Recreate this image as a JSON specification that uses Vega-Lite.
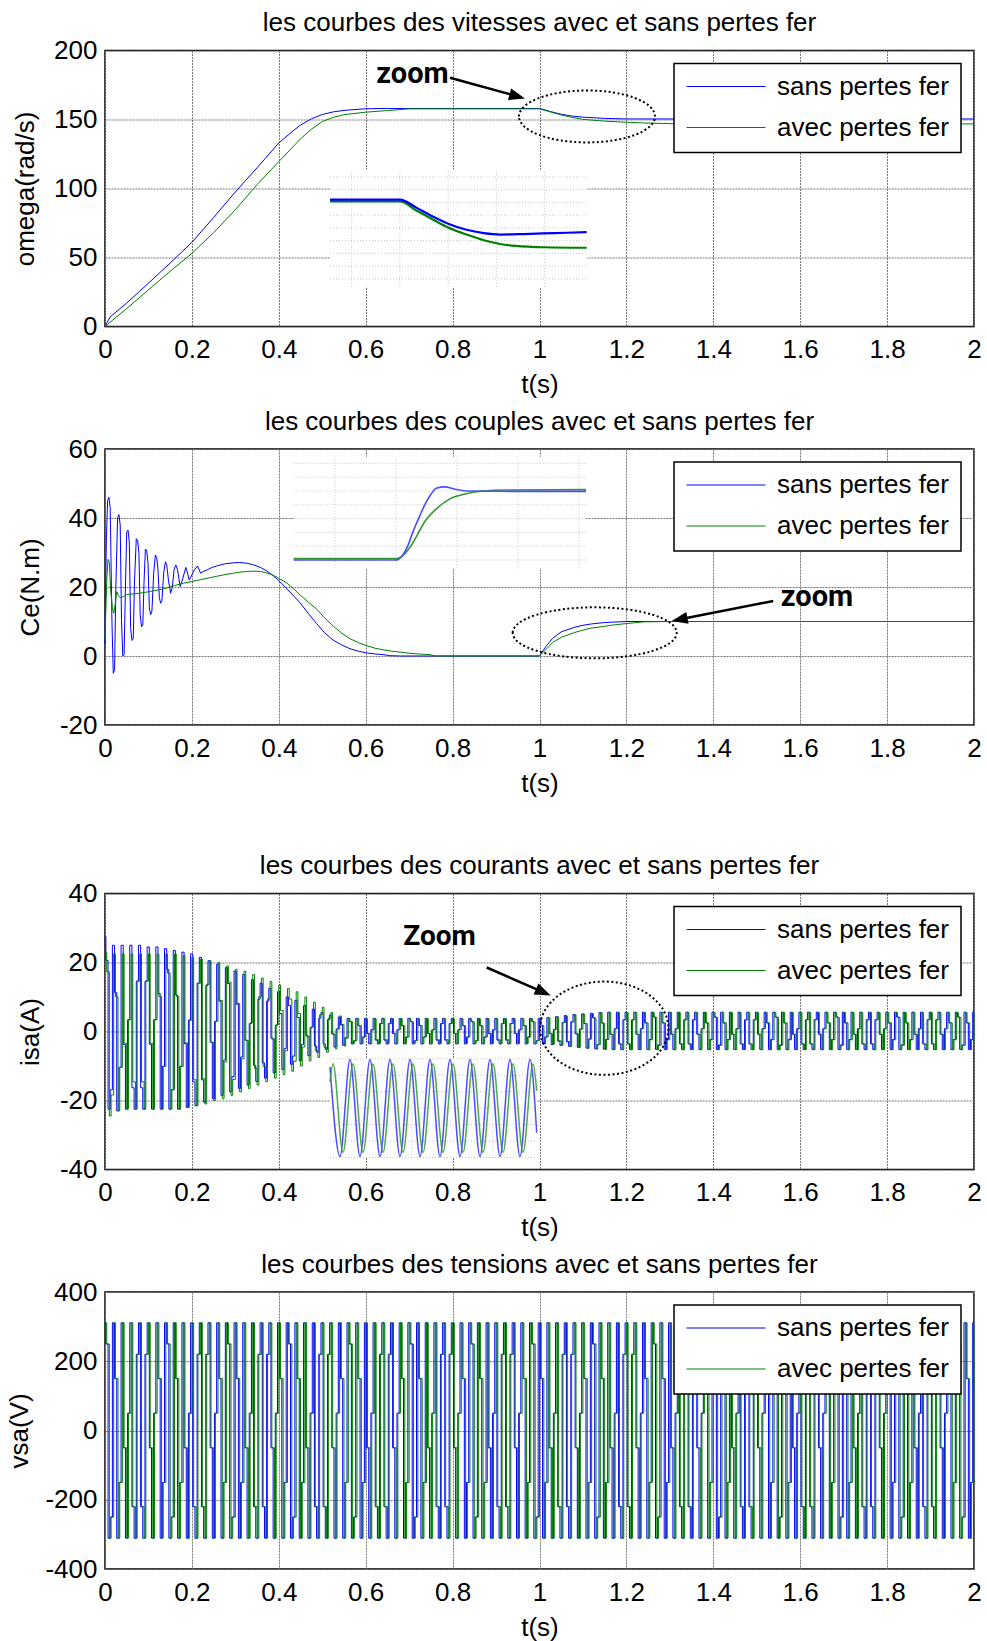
{
"$schema": "https://vega.github.io/schema/vega-lite/v6.json",
"background": "white",
"padding": {"left": 5, "top": 8.5, "right": 4, "bottom": 0},
"spacing": 8.5,
"config": {
  "font": "Liberation Sans",
  "view": {"stroke": "black", "strokeWidth": 1.5},
  "axis": {"domain": false, "ticks": false, "grid": true, "gridColor": "#777777", "gridDash": [2, 1], "gridWidth": 1, "labelFont": "Liberation Sans", "labelFontSize": 26, "labelColor": "black", "titleFont": "Liberation Sans", "titleFontSize": 26, "titleFontWeight": "normal", "titleColor": "black", "labelOverlap": false, "labelExpr": "replace(datum.label, '\u2212', '-')"},
  "axisX": {"labelPadding": 10, "labelFlush": false},
  "axisY": {"labelPadding": 8},
  "title": {"font": "Liberation Sans", "fontSize": 26, "fontWeight": "normal", "color": "black", "offset": 1.5, "anchor": "middle"},
  "legend": {"symbolType": "stroke", "symbolSize": 6241, "symbolStrokeWidth": 1, "labelFont": "Liberation Sans", "labelFontSize": 26, "labelColor": "black", "labelOffset": 11, "labelLimit": 400, "padding": 12, "rowPadding": 15, "clipHeight": 22, "strokeColor": "black", "fillColor": "white", "strokeWidth": 1.5, "cornerRadius": 0}
},
"resolve": {"scale": {"color": "independent", "x": "independent", "y": "independent"}},
"datasets": {
"w_b": [{"t":0,"v":0},{"t":0.005,"v":3},{"t":0.012,"v":7},{"t":0.05,"v":17},{"t":0.1,"v":31.4},{"t":0.15,"v":46},{"t":0.2,"v":61},{"t":0.25,"v":79},{"t":0.3,"v":97.5},{"t":0.35,"v":115},{"t":0.4,"v":133},{"t":0.43,"v":141},{"t":0.45,"v":146},{"t":0.475,"v":150.5},{"t":0.5,"v":153.6},{"t":0.525,"v":155.5},{"t":0.55,"v":156.6},{"t":0.6,"v":157.8},{"t":0.65,"v":158},{"t":1,"v":158},{"t":1.025,"v":155.8},{"t":1.05,"v":153.8},{"t":1.075,"v":152.5},{"t":1.1,"v":151.7},{"t":1.15,"v":150.8},{"t":1.2,"v":150.4},{"t":2,"v":150.4}],
"w_g": [{"t":0,"v":0},{"t":0.05,"v":13},{"t":0.1,"v":26.6},{"t":0.15,"v":40},{"t":0.2,"v":53},{"t":0.25,"v":68},{"t":0.3,"v":84.6},{"t":0.35,"v":102.8},{"t":0.4,"v":119.5},{"t":0.45,"v":136},{"t":0.475,"v":143},{"t":0.5,"v":148.5},{"t":0.525,"v":151.5},{"t":0.55,"v":153.5},{"t":0.6,"v":155.3},{"t":0.65,"v":156.5},{"t":0.7,"v":157.7},{"t":1,"v":157.7},{"t":1.025,"v":155.5},{"t":1.05,"v":153.3},{"t":1.075,"v":151.5},{"t":1.1,"v":150.1},{"t":1.15,"v":148.8},{"t":1.2,"v":148},{"t":1.25,"v":147.4},{"t":1.3,"v":147},{"t":2,"v":146.8}],
"c_b": [{"t":0,"v":3.5},{"t":0.003,"v":33},{"t":0.006,"v":45},{"t":0.009,"v":46},{"t":0.012,"v":43},{"t":0.016,"v":10},{"t":0.019,"v":-5},{"t":0.022,"v":-4},{"t":0.025,"v":20},{"t":0.029,"v":40},{"t":0.032,"v":41},{"t":0.035,"v":38},{"t":0.038,"v":10},{"t":0.041,"v":0},{"t":0.044,"v":0.5},{"t":0.047,"v":20},{"t":0.05,"v":36},{"t":0.053,"v":36.5},{"t":0.056,"v":33},{"t":0.059,"v":8},{"t":0.062,"v":4.5},{"t":0.065,"v":5},{"t":0.068,"v":22},{"t":0.072,"v":34},{"t":0.075,"v":33.5},{"t":0.078,"v":30},{"t":0.081,"v":12},{"t":0.084,"v":8.5},{"t":0.087,"v":9},{"t":0.09,"v":22},{"t":0.093,"v":31},{"t":0.096,"v":30.5},{"t":0.099,"v":27},{"t":0.102,"v":14},{"t":0.105,"v":12},{"t":0.108,"v":13},{"t":0.112,"v":24},{"t":0.116,"v":29.3},{"t":0.119,"v":28.5},{"t":0.122,"v":25},{"t":0.125,"v":17},{"t":0.128,"v":15.3},{"t":0.131,"v":16},{"t":0.135,"v":24},{"t":0.139,"v":27.3},{"t":0.142,"v":26.5},{"t":0.146,"v":22},{"t":0.151,"v":18.2},{"t":0.155,"v":20},{"t":0.159,"v":25},{"t":0.163,"v":26.4},{"t":0.167,"v":25},{"t":0.173,"v":20.1},{"t":0.178,"v":22},{"t":0.186,"v":25.7},{"t":0.19,"v":24},{"t":0.194,"v":22},{"t":0.2,"v":23.5},{"t":0.206,"v":25},{"t":0.213,"v":26.1},{"t":0.22,"v":24},{"t":0.226,"v":24.5},{"t":0.234,"v":24.9},{"t":0.245,"v":25.6},{"t":0.257,"v":26.1},{"t":0.275,"v":26.7},{"t":0.295,"v":27},{"t":0.31,"v":27.1},{"t":0.326,"v":26.9},{"t":0.34,"v":26.5},{"t":0.357,"v":25.7},{"t":0.372,"v":24.7},{"t":0.387,"v":23.3},{"t":0.4,"v":21.8},{"t":0.418,"v":19.6},{"t":0.435,"v":17.3},{"t":0.449,"v":15.4},{"t":0.468,"v":12.3},{"t":0.487,"v":9.4},{"t":0.505,"v":6.8},{"t":0.525,"v":4.6},{"t":0.545,"v":3.2},{"t":0.564,"v":2.1},{"t":0.583,"v":1.4},{"t":0.602,"v":0.9},{"t":0.62,"v":0.6},{"t":0.64,"v":0.4},{"t":0.655,"v":0.1},{"t":0.68,"v":0},{"t":1,"v":0},{"t":1.015,"v":2.8},{"t":1.03,"v":5.1},{"t":1.05,"v":7},{"t":1.08,"v":8.3},{"t":1.1,"v":8.9},{"t":1.12,"v":9.3},{"t":1.15,"v":9.7},{"t":1.2,"v":10},{"t":2,"v":10}],
"c_g": [{"t":0,"v":5},{"t":0.004,"v":22},{"t":0.007,"v":28},{"t":0.01,"v":27},{"t":0.013,"v":19},{"t":0.017,"v":14},{"t":0.02,"v":12.4},{"t":0.023,"v":14.5},{"t":0.027,"v":18.6},{"t":0.031,"v":17.5},{"t":0.036,"v":16.8},{"t":0.042,"v":17.2},{"t":0.05,"v":17.8},{"t":0.065,"v":18},{"t":0.08,"v":18.2},{"t":0.104,"v":18.7},{"t":0.125,"v":19.2},{"t":0.142,"v":19.7},{"t":0.16,"v":20.4},{"t":0.18,"v":21.1},{"t":0.2,"v":21.6},{"t":0.219,"v":22.1},{"t":0.238,"v":22.6},{"t":0.257,"v":23.1},{"t":0.276,"v":23.6},{"t":0.295,"v":24},{"t":0.31,"v":24.3},{"t":0.326,"v":24.5},{"t":0.342,"v":24.6},{"t":0.357,"v":24.5},{"t":0.372,"v":24.1},{"t":0.387,"v":23.4},{"t":0.4,"v":22.5},{"t":0.418,"v":21.2},{"t":0.435,"v":19.4},{"t":0.449,"v":17.7},{"t":0.468,"v":15.6},{"t":0.487,"v":13.6},{"t":0.505,"v":11.1},{"t":0.525,"v":8.7},{"t":0.545,"v":6.6},{"t":0.564,"v":5},{"t":0.583,"v":3.9},{"t":0.602,"v":3},{"t":0.62,"v":2.3},{"t":0.64,"v":1.8},{"t":0.66,"v":1.4},{"t":0.68,"v":1.1},{"t":0.7,"v":0.8},{"t":0.72,"v":0.6},{"t":0.748,"v":0.4},{"t":0.76,"v":0},{"t":1,"v":0},{"t":1.015,"v":1.9},{"t":1.03,"v":3.9},{"t":1.05,"v":5.4},{"t":1.08,"v":6.8},{"t":1.1,"v":7.5},{"t":1.12,"v":8.1},{"t":1.15,"v":8.6},{"t":1.17,"v":9},{"t":1.2,"v":9.4},{"t":1.24,"v":9.9},{"t":1.3,"v":10},{"t":2,"v":10}],
"i1_b": [{"t":0.9275,"v":157.5},{"t":1,"v":157.5},{"t":1.017,"v":155.8},{"t":1.034,"v":153.9},{"t":1.05,"v":152.4},{"t":1.069,"v":151.1},{"t":1.087,"v":150.4},{"t":1.104,"v":150.1},{"t":1.128,"v":150.2},{"t":1.16,"v":150.4},{"t":1.1936,"v":150.6}],
"i1_g": [{"t":0.9275,"v":157.1},{"t":1,"v":157.1},{"t":1.017,"v":155.2},{"t":1.034,"v":153.3},{"t":1.05,"v":151.6},{"t":1.069,"v":150.1},{"t":1.087,"v":148.9},{"t":1.104,"v":148.1},{"t":1.12,"v":147.7},{"t":1.15,"v":147.4},{"t":1.1936,"v":147.3}],
"i2_b": [{"t":0.8323,"v":0},{"t":1,"v":0},{"t":1.01,"v":0.6},{"t":1.02,"v":2.2},{"t":1.027,"v":3.9},{"t":1.04,"v":6.6},{"t":1.049,"v":8.3},{"t":1.058,"v":9.6},{"t":1.066,"v":10.4},{"t":1.08,"v":10.6},{"t":1.095,"v":10.3},{"t":1.115,"v":10},{"t":1.2,"v":9.95},{"t":1.3115,"v":9.95}],
"i2_g": [{"t":0.8323,"v":0.2},{"t":1,"v":0.2},{"t":1.012,"v":0.7},{"t":1.027,"v":2.4},{"t":1.049,"v":5.8},{"t":1.066,"v":7.4},{"t":1.089,"v":8.9},{"t":1.115,"v":9.6},{"t":1.143,"v":10},{"t":1.18,"v":10.15},{"t":1.3115,"v":10.2}],
"i3_b": [{"t":1,"v":5},{"t":1.01,"v":-5.9},{"t":1.02,"v":5.9},{"t":1.03,"v":-5.9},{"t":1.04,"v":5.9},{"t":1.05,"v":-5.9},{"t":1.06,"v":5.9},{"t":1.07,"v":-5.9},{"t":1.08,"v":5.9},{"t":1.09,"v":-5.9},{"t":1.1,"v":5.9},{"t":1.11,"v":-5.9},{"t":1.12,"v":5.9},{"t":1.13,"v":-5.9},{"t":1.14,"v":5.9},{"t":1.15,"v":-5.9},{"t":1.16,"v":5.9},{"t":1.17,"v":-5.9},{"t":1.18,"v":5.9},{"t":1.19,"v":-5.9},{"t":1.2,"v":5.9},{"t":1.2067,"v":-3}],
"i3_g": [{"t":1,"v":3.2},{"t":1.003,"v":5.4},{"t":1.013,"v":-5.4},{"t":1.023,"v":5.4},{"t":1.033,"v":-5.4},{"t":1.043,"v":5.4},{"t":1.053,"v":-5.4},{"t":1.063,"v":5.4},{"t":1.073,"v":-5.4},{"t":1.083,"v":5.4},{"t":1.093,"v":-5.4},{"t":1.103,"v":5.4},{"t":1.113,"v":-5.4},{"t":1.123,"v":5.4},{"t":1.133,"v":-5.4},{"t":1.143,"v":5.4},{"t":1.153,"v":-5.4},{"t":1.163,"v":5.4},{"t":1.173,"v":-5.4},{"t":1.183,"v":5.4},{"t":1.193,"v":-5.4},{"t":1.203,"v":5.4},{"t":1.2067,"v":2.1}],
"isa": [
{"t":0,"b":27.5,"g":23},{"t":0.004,"b":20.6,"g":17.3},{"t":0.01,"b":-22.5,"g":-24.5},{"t":0.014,"b":-16.9,"g":-18.4},
{"t":0.02,"b":25,"g":22.5},{"t":0.024,"b":11.3,"g":10.1},{"t":0.03,"b":-23,"g":-23},{"t":0.034,"b":-10.4,"g":-10.4},
{"t":0.04,"b":25,"g":22.5},{"t":0.044,"b":-3.8,"g":-3.4},{"t":0.05,"b":-22.5,"g":-22.5},{"t":0.054,"b":3.4,"g":3.4},
{"t":0.06,"b":25,"g":22.5},{"t":0.064,"b":-16.3,"g":-14.6},{"t":0.07,"b":-22.5,"g":-22.5},{"t":0.074,"b":14.6,"g":14.6},
{"t":0.08,"b":25,"g":22.5},{"t":0.084,"b":-16.3,"g":-14.6},{"t":0.09,"b":-22.5,"g":-22.5},{"t":0.094,"b":14.6,"g":14.6},
{"t":0.1,"b":24.5,"g":22.5},{"t":0.104,"b":-3.7,"g":-3.4},{"t":0.11,"b":-22.5,"g":-22.5},{"t":0.114,"b":3.4,"g":3.4},
{"t":0.12,"b":24.5,"g":22.5},{"t":0.124,"b":11,"g":10.1},{"t":0.13,"b":-22.5,"g":-22.5},{"t":0.134,"b":-10.1,"g":-10.1},
{"t":0.14,"b":24,"g":22.5},{"t":0.144,"b":18,"g":16.9},{"t":0.15,"b":-22.5,"g":-22.5},{"t":0.154,"b":-16.9,"g":-16.9},
{"t":0.16,"b":23.5,"g":22.5},{"t":0.164,"b":10.6,"g":10.1},{"t":0.17,"b":-22.5,"g":-22.5},{"t":0.174,"b":-10.1,"g":-10.1},
{"t":0.18,"b":23,"g":22},{"t":0.184,"b":-3.5,"g":-3.3},{"t":0.19,"b":-22,"g":-22},{"t":0.194,"b":3.3,"g":3.3},
{"t":0.2,"b":22.5,"g":21.5},{"t":0.204,"b":-14.6,"g":-14},{"t":0.21,"b":-21.5,"g":-21.5},{"t":0.214,"b":14,"g":14},
{"t":0.22,"b":21.5,"g":21},{"t":0.224,"b":-14,"g":-13.7},{"t":0.23,"b":-20.5,"g":-21},{"t":0.234,"b":13.3,"g":13.7},
{"t":0.24,"b":20.5,"g":20.5},{"t":0.244,"b":-3.1,"g":-3.1},{"t":0.25,"b":-19.5,"g":-20},{"t":0.254,"b":2.9,"g":3},
{"t":0.26,"b":19.5,"g":20},{"t":0.264,"b":8.8,"g":9},{"t":0.27,"b":-18.5,"g":-19.5},{"t":0.274,"b":-8.3,"g":-8.8},
{"t":0.28,"b":18.5,"g":19},{"t":0.284,"b":13.9,"g":14.3},{"t":0.29,"b":-17.5,"g":-18.5},{"t":0.294,"b":-13.1,"g":-13.9},
{"t":0.3,"b":17.5,"g":18},{"t":0.304,"b":7.9,"g":8.1},{"t":0.31,"b":-16.5,"g":-17.5},{"t":0.314,"b":-7.4,"g":-7.9},
{"t":0.32,"b":16.5,"g":17.5},{"t":0.324,"b":-2.5,"g":-2.6},{"t":0.33,"b":-15.5,"g":-16.5},{"t":0.334,"b":2.3,"g":2.5},
{"t":0.34,"b":15,"g":16.5},{"t":0.344,"b":-9.8,"g":-10.7},{"t":0.35,"b":-14.5,"g":-15.5},{"t":0.354,"b":9.4,"g":10.1},
{"t":0.36,"b":14,"g":15.5},{"t":0.364,"b":-9.1,"g":-10.1},{"t":0.37,"b":-13.5,"g":-14.5},{"t":0.374,"b":8.8,"g":9.4},
{"t":0.38,"b":12.5,"g":14.5},{"t":0.384,"b":-1.9,"g":-2.2},{"t":0.39,"b":-12,"g":-13.5},{"t":0.394,"b":1.8,"g":2},
{"t":0.4,"b":11.5,"g":13.5},{"t":0.404,"b":5.2,"g":6.1},{"t":0.41,"b":-11,"g":-12.5},{"t":0.414,"b":-5,"g":-5.6},
{"t":0.42,"b":10,"g":12.5},{"t":0.424,"b":7.5,"g":9.4},{"t":0.43,"b":-9.5,"g":-11.5},{"t":0.434,"b":-7.1,"g":-8.6},
{"t":0.44,"b":9,"g":11.5},{"t":0.444,"b":4.1,"g":5.2},{"t":0.45,"b":-8.5,"g":-10},{"t":0.454,"b":-3.8,"g":-4.5},
{"t":0.46,"b":7.5,"g":10},{"t":0.464,"b":-1.1,"g":-1.5},{"t":0.47,"b":-7,"g":-8.5},{"t":0.474,"b":1.1,"g":1.3},
{"t":0.48,"b":6.5,"g":8.5},{"t":0.484,"b":-4.2,"g":-5.5},{"t":0.49,"b":-6,"g":-7.5},{"t":0.494,"b":3.9,"g":4.9},
{"t":0.5,"b":5.5,"g":7},{"t":0.504,"b":-3.6,"g":-4.6},{"t":0.51,"b":-5.2,"g":-6},{"t":0.514,"b":3.4,"g":3.9},
{"t":0.52,"b":4.8,"g":5.5},{"t":0.524,"b":-0.7,"g":-0.8},{"t":0.53,"b":-4.5,"g":-5},{"t":0.534,"b":0.7,"g":0.8},
{"t":0.54,"b":4.2,"g":4.5},{"t":0.544,"b":1.9,"g":2},{"t":0.55,"b":-4,"g":-4.2},{"t":0.554,"b":-1.8,"g":-1.9},
{"t":0.56,"b":3.8,"g":3.7},{"t":0.564,"b":2.9,"g":2.8},{"t":0.57,"b":-3.6,"g":-3.5},{"t":0.574,"b":-2.7,"g":-2.6},
{"t":0.58,"b":3.8,"g":3.7},{"t":0.584,"b":1.7,"g":1.7},{"t":0.59,"b":-3.6,"g":-3.5},{"t":0.594,"b":-1.6,"g":-1.6},
{"t":0.6,"b":3.8,"g":3.7},{"t":0.604,"b":-0.6,"g":-0.6},{"t":0.61,"b":-3.6,"g":-3.5},{"t":0.614,"b":0.5,"g":0.5},
{"t":0.62,"b":3.8,"g":3.7},{"t":0.624,"b":-2.5,"g":-2.4},{"t":0.63,"b":-3.6,"g":-3.5},{"t":0.634,"b":2.3,"g":2.3},
{"t":0.64,"b":3.8,"g":3.7},{"t":0.644,"b":-2.5,"g":-2.4},{"t":0.65,"b":-3.6,"g":-3.5},{"t":0.654,"b":2.3,"g":2.3},
{"t":0.66,"b":3.8,"g":3.7},{"t":0.664,"b":-0.6,"g":-0.6},{"t":0.67,"b":-3.6,"g":-3.5},{"t":0.674,"b":0.5,"g":0.5},
{"t":0.68,"b":3.8,"g":3.7},{"t":0.684,"b":1.7,"g":1.7},{"t":0.69,"b":-3.6,"g":-3.5},{"t":0.694,"b":-1.6,"g":-1.6},
{"t":0.7,"b":3.8,"g":3.7},{"t":0.704,"b":2.9,"g":2.8},{"t":0.71,"b":-3.6,"g":-3.5},{"t":0.714,"b":-2.7,"g":-2.6},
{"t":0.72,"b":3.8,"g":3.7},{"t":0.724,"b":1.7,"g":1.7},{"t":0.73,"b":-3.6,"g":-3.5},{"t":0.734,"b":-1.6,"g":-1.6},
{"t":0.74,"b":3.8,"g":3.7},{"t":0.744,"b":-0.6,"g":-0.6},{"t":0.75,"b":-3.6,"g":-3.5},{"t":0.754,"b":0.5,"g":0.5},
{"t":0.76,"b":3.8,"g":3.7},{"t":0.764,"b":-2.5,"g":-2.4},{"t":0.77,"b":-3.6,"g":-3.5},{"t":0.774,"b":2.3,"g":2.3},
{"t":0.78,"b":3.8,"g":3.7},{"t":0.784,"b":-2.5,"g":-2.4},{"t":0.79,"b":-3.6,"g":-3.5},{"t":0.794,"b":2.3,"g":2.3},
{"t":0.8,"b":3.8,"g":3.7},{"t":0.804,"b":-0.6,"g":-0.6},{"t":0.81,"b":-3.6,"g":-3.5},{"t":0.814,"b":0.5,"g":0.5},
{"t":0.82,"b":3.8,"g":3.7},{"t":0.824,"b":1.7,"g":1.7},{"t":0.83,"b":-3.6,"g":-3.5},{"t":0.834,"b":-1.6,"g":-1.6},
{"t":0.84,"b":3.8,"g":3.7},{"t":0.844,"b":2.9,"g":2.8},{"t":0.85,"b":-3.6,"g":-3.5},{"t":0.854,"b":-2.7,"g":-2.6},
{"t":0.86,"b":3.8,"g":3.7},{"t":0.864,"b":1.7,"g":1.7},{"t":0.87,"b":-3.6,"g":-3.5},{"t":0.874,"b":-1.6,"g":-1.6},
{"t":0.88,"b":3.8,"g":3.7},{"t":0.884,"b":-0.6,"g":-0.6},{"t":0.89,"b":-3.6,"g":-3.5},{"t":0.894,"b":0.5,"g":0.5},
{"t":0.9,"b":3.8,"g":3.7},{"t":0.904,"b":-2.5,"g":-2.4},{"t":0.91,"b":-3.6,"g":-3.5},{"t":0.914,"b":2.3,"g":2.3},
{"t":0.92,"b":3.8,"g":3.7},{"t":0.924,"b":-2.5,"g":-2.4},{"t":0.93,"b":-3.6,"g":-3.5},{"t":0.934,"b":2.3,"g":2.3},
{"t":0.94,"b":3.8,"g":3.7},{"t":0.944,"b":-0.6,"g":-0.6},{"t":0.95,"b":-3.6,"g":-3.5},{"t":0.954,"b":0.5,"g":0.5},
{"t":0.96,"b":3.8,"g":3.7},{"t":0.964,"b":1.7,"g":1.7},{"t":0.97,"b":-3.6,"g":-3.5},{"t":0.974,"b":-1.6,"g":-1.6},
{"t":0.98,"b":3.8,"g":3.7},{"t":0.984,"b":2.9,"g":2.8},{"t":0.99,"b":-3.6,"g":-3.5},{"t":0.994,"b":-2.7,"g":-2.6},
{"t":1,"b":3.8,"g":3.7},{"t":1.004,"b":1.7,"g":1.7},{"t":1.01,"b":-3.6,"g":-3.5},{"t":1.014,"b":-1.6,"g":-1.6},
{"t":1.02,"b":4,"g":3.9},{"t":1.024,"b":-0.6,"g":-0.6},{"t":1.03,"b":-3.8,"g":-3.7},{"t":1.034,"b":0.6,"g":0.6},
{"t":1.04,"b":4.3,"g":4.2},{"t":1.044,"b":-2.8,"g":-2.7},{"t":1.05,"b":-4,"g":-4},{"t":1.054,"b":2.6,"g":2.6},
{"t":1.06,"b":4.6,"g":4.5},{"t":1.064,"b":-3,"g":-2.9},{"t":1.07,"b":-4.3,"g":-4.3},{"t":1.074,"b":2.8,"g":2.8},
{"t":1.08,"b":4.9,"g":4.8},{"t":1.084,"b":-0.7,"g":-0.7},{"t":1.09,"b":-4.6,"g":-4.6},{"t":1.094,"b":0.7,"g":0.7},
{"t":1.1,"b":5.1,"g":5},{"t":1.104,"b":2.3,"g":2.3},{"t":1.11,"b":-4.8,"g":-4.9},{"t":1.114,"b":-2.2,"g":-2.2},
{"t":1.12,"b":5.3,"g":5.2},{"t":1.124,"b":4,"g":3.9},{"t":1.13,"b":-5,"g":-5.1},{"t":1.134,"b":-3.8,"g":-3.8},
{"t":1.14,"b":5.5,"g":5.4},{"t":1.144,"b":2.5,"g":2.4},{"t":1.15,"b":-5.1,"g":-5.2},{"t":1.154,"b":-2.3,"g":-2.3},
{"t":1.16,"b":5.6,"g":5.5},{"t":1.164,"b":-0.8,"g":-0.8},{"t":1.17,"b":-5.2,"g":-5.3},{"t":1.174,"b":0.8,"g":0.8},
{"t":1.18,"b":5.6,"g":5.5},{"t":1.184,"b":-3.6,"g":-3.6},{"t":1.19,"b":-5.2,"g":-5.3},{"t":1.194,"b":3.4,"g":3.4},
{"t":1.2,"b":5.6,"g":5.5},{"t":1.204,"b":-3.6,"g":-3.6},{"t":1.21,"b":-5.2,"g":-5.3},{"t":1.214,"b":3.4,"g":3.4},
{"t":1.22,"b":5.6,"g":5.5},{"t":1.224,"b":-0.8,"g":-0.8},{"t":1.23,"b":-5.2,"g":-5.3},{"t":1.234,"b":0.8,"g":0.8},
{"t":1.24,"b":5.6,"g":5.5},{"t":1.244,"b":2.5,"g":2.5},{"t":1.25,"b":-5.2,"g":-5.3},{"t":1.254,"b":-2.3,"g":-2.4},
{"t":1.26,"b":5.6,"g":5.5},{"t":1.264,"b":4.2,"g":4.1},{"t":1.27,"b":-5.2,"g":-5.3},{"t":1.274,"b":-3.9,"g":-4},
{"t":1.28,"b":5.6,"g":5.5},{"t":1.284,"b":2.5,"g":2.5},{"t":1.29,"b":-5.2,"g":-5.3},{"t":1.294,"b":-2.3,"g":-2.4},
{"t":1.3,"b":5.6,"g":5.5},{"t":1.304,"b":-0.8,"g":-0.8},{"t":1.31,"b":-5.2,"g":-5.3},{"t":1.314,"b":0.8,"g":0.8},
{"t":1.32,"b":5.6,"g":5.5},{"t":1.324,"b":-3.6,"g":-3.6},{"t":1.33,"b":-5.2,"g":-5.3},{"t":1.334,"b":3.4,"g":3.4},
{"t":1.34,"b":5.6,"g":5.5},{"t":1.344,"b":-3.6,"g":-3.6},{"t":1.35,"b":-5.2,"g":-5.3},{"t":1.354,"b":3.4,"g":3.4},
{"t":1.36,"b":5.6,"g":5.5},{"t":1.364,"b":-0.8,"g":-0.8},{"t":1.37,"b":-5.2,"g":-5.3},{"t":1.374,"b":0.8,"g":0.8},
{"t":1.38,"b":5.6,"g":5.5},{"t":1.384,"b":2.5,"g":2.5},{"t":1.39,"b":-5.2,"g":-5.3},{"t":1.394,"b":-2.3,"g":-2.4},
{"t":1.4,"b":5.6,"g":5.5},{"t":1.404,"b":4.2,"g":4.1},{"t":1.41,"b":-5.2,"g":-5.3},{"t":1.414,"b":-3.9,"g":-4},
{"t":1.42,"b":5.6,"g":5.5},{"t":1.424,"b":2.5,"g":2.5},{"t":1.43,"b":-5.2,"g":-5.3},{"t":1.434,"b":-2.3,"g":-2.4},
{"t":1.44,"b":5.6,"g":5.5},{"t":1.444,"b":-0.8,"g":-0.8},{"t":1.45,"b":-5.2,"g":-5.3},{"t":1.454,"b":0.8,"g":0.8},
{"t":1.46,"b":5.6,"g":5.5},{"t":1.464,"b":-3.6,"g":-3.6},{"t":1.47,"b":-5.2,"g":-5.3},{"t":1.474,"b":3.4,"g":3.4},
{"t":1.48,"b":5.6,"g":5.5},{"t":1.484,"b":-3.6,"g":-3.6},{"t":1.49,"b":-5.2,"g":-5.3},{"t":1.494,"b":3.4,"g":3.4},
{"t":1.5,"b":5.6,"g":5.5},{"t":1.504,"b":-0.8,"g":-0.8},{"t":1.51,"b":-5.2,"g":-5.3},{"t":1.514,"b":0.8,"g":0.8},
{"t":1.52,"b":5.6,"g":5.5},{"t":1.524,"b":2.5,"g":2.5},{"t":1.53,"b":-5.2,"g":-5.3},{"t":1.534,"b":-2.3,"g":-2.4},
{"t":1.54,"b":5.6,"g":5.5},{"t":1.544,"b":4.2,"g":4.1},{"t":1.55,"b":-5.2,"g":-5.3},{"t":1.554,"b":-3.9,"g":-4},
{"t":1.56,"b":5.6,"g":5.5},{"t":1.564,"b":2.5,"g":2.5},{"t":1.57,"b":-5.2,"g":-5.3},{"t":1.574,"b":-2.3,"g":-2.4},
{"t":1.58,"b":5.6,"g":5.5},{"t":1.584,"b":-0.8,"g":-0.8},{"t":1.59,"b":-5.2,"g":-5.3},{"t":1.594,"b":0.8,"g":0.8},
{"t":1.6,"b":5.6,"g":5.5},{"t":1.604,"b":-3.6,"g":-3.6},{"t":1.61,"b":-5.2,"g":-5.3},{"t":1.614,"b":3.4,"g":3.4},
{"t":1.62,"b":5.6,"g":5.5},{"t":1.624,"b":-3.6,"g":-3.6},{"t":1.63,"b":-5.2,"g":-5.3},{"t":1.634,"b":3.4,"g":3.4},
{"t":1.64,"b":5.6,"g":5.5},{"t":1.644,"b":-0.8,"g":-0.8},{"t":1.65,"b":-5.2,"g":-5.3},{"t":1.654,"b":0.8,"g":0.8},
{"t":1.66,"b":5.6,"g":5.5},{"t":1.664,"b":2.5,"g":2.5},{"t":1.67,"b":-5.2,"g":-5.3},{"t":1.674,"b":-2.3,"g":-2.4},
{"t":1.68,"b":5.6,"g":5.5},{"t":1.684,"b":4.2,"g":4.1},{"t":1.69,"b":-5.2,"g":-5.3},{"t":1.694,"b":-3.9,"g":-4},
{"t":1.7,"b":5.6,"g":5.5},{"t":1.704,"b":2.5,"g":2.5},{"t":1.71,"b":-5.2,"g":-5.3},{"t":1.714,"b":-2.3,"g":-2.4},
{"t":1.72,"b":5.6,"g":5.5},{"t":1.724,"b":-0.8,"g":-0.8},{"t":1.73,"b":-5.2,"g":-5.3},{"t":1.734,"b":0.8,"g":0.8},
{"t":1.74,"b":5.6,"g":5.5},{"t":1.744,"b":-3.6,"g":-3.6},{"t":1.75,"b":-5.2,"g":-5.3},{"t":1.754,"b":3.4,"g":3.4},
{"t":1.76,"b":5.6,"g":5.5},{"t":1.764,"b":-3.6,"g":-3.6},{"t":1.77,"b":-5.2,"g":-5.3},{"t":1.774,"b":3.4,"g":3.4},
{"t":1.78,"b":5.6,"g":5.5},{"t":1.784,"b":-0.8,"g":-0.8},{"t":1.79,"b":-5.2,"g":-5.3},{"t":1.794,"b":0.8,"g":0.8},
{"t":1.8,"b":5.6,"g":5.5},{"t":1.804,"b":2.5,"g":2.5},{"t":1.81,"b":-5.2,"g":-5.3},{"t":1.814,"b":-2.3,"g":-2.4},
{"t":1.82,"b":5.6,"g":5.5},{"t":1.824,"b":4.2,"g":4.1},{"t":1.83,"b":-5.2,"g":-5.3},{"t":1.834,"b":-3.9,"g":-4},
{"t":1.84,"b":5.6,"g":5.5},{"t":1.844,"b":2.5,"g":2.5},{"t":1.85,"b":-5.2,"g":-5.3},{"t":1.854,"b":-2.3,"g":-2.4},
{"t":1.86,"b":5.6,"g":5.5},{"t":1.864,"b":-0.8,"g":-0.8},{"t":1.87,"b":-5.2,"g":-5.3},{"t":1.874,"b":0.8,"g":0.8},
{"t":1.88,"b":5.6,"g":5.5},{"t":1.884,"b":-3.6,"g":-3.6},{"t":1.89,"b":-5.2,"g":-5.3},{"t":1.894,"b":3.4,"g":3.4},
{"t":1.9,"b":5.6,"g":5.5},{"t":1.904,"b":-3.6,"g":-3.6},{"t":1.91,"b":-5.2,"g":-5.3},{"t":1.914,"b":3.4,"g":3.4},
{"t":1.92,"b":5.6,"g":5.5},{"t":1.924,"b":-0.8,"g":-0.8},{"t":1.93,"b":-5.2,"g":-5.3},{"t":1.934,"b":0.8,"g":0.8},
{"t":1.94,"b":5.6,"g":5.5},{"t":1.944,"b":2.5,"g":2.5},{"t":1.95,"b":-5.2,"g":-5.3},{"t":1.954,"b":-2.3,"g":-2.4},
{"t":1.96,"b":5.6,"g":5.5},{"t":1.964,"b":4.2,"g":4.1},{"t":1.97,"b":-5.2,"g":-5.3},{"t":1.974,"b":-3.9,"g":-4},
{"t":1.98,"b":5.6,"g":5.5},{"t":1.984,"b":2.5,"g":2.5},{"t":1.99,"b":-5.2,"g":-5.3},{"t":1.994,"b":-2.3,"g":-2.4},
{"t":2,"b":5.6,"g":5.5}],
"vsa": [
{"t":0,"v":311},{"t":0.004,"v":250},{"t":0.01,"v":-311},{"t":0.014,"v":-250},
{"t":0.02,"v":311},{"t":0.024,"v":150},{"t":0.03,"v":-311},{"t":0.034,"v":-150},
{"t":0.04,"v":311},{"t":0.044,"v":-50},{"t":0.05,"v":-311},{"t":0.054,"v":50},
{"t":0.06,"v":311},{"t":0.064,"v":-220},{"t":0.07,"v":-311},{"t":0.074,"v":220},
{"t":0.08,"v":311},{"t":0.084,"v":-220},{"t":0.09,"v":-311},{"t":0.094,"v":220},
{"t":0.1,"v":311},{"t":0.104,"v":-50},{"t":0.11,"v":-311},{"t":0.114,"v":50},
{"t":0.12,"v":311},{"t":0.124,"v":150},{"t":0.13,"v":-311},{"t":0.134,"v":-150},
{"t":0.14,"v":311},{"t":0.144,"v":250},{"t":0.15,"v":-311},{"t":0.154,"v":-250},
{"t":0.16,"v":311},{"t":0.164,"v":150},{"t":0.17,"v":-311},{"t":0.174,"v":-150},
{"t":0.18,"v":311},{"t":0.184,"v":-50},{"t":0.19,"v":-311},{"t":0.194,"v":50},
{"t":0.2,"v":311},{"t":0.204,"v":-220},{"t":0.21,"v":-311},{"t":0.214,"v":220},
{"t":0.22,"v":311},{"t":0.224,"v":-220},{"t":0.23,"v":-311},{"t":0.234,"v":220},
{"t":0.24,"v":311},{"t":0.244,"v":-50},{"t":0.25,"v":-311},{"t":0.254,"v":50},
{"t":0.26,"v":311},{"t":0.264,"v":150},{"t":0.27,"v":-311},{"t":0.274,"v":-150},
{"t":0.28,"v":311},{"t":0.284,"v":250},{"t":0.29,"v":-311},{"t":0.294,"v":-250},
{"t":0.3,"v":311},{"t":0.304,"v":150},{"t":0.31,"v":-311},{"t":0.314,"v":-150},
{"t":0.32,"v":311},{"t":0.324,"v":-50},{"t":0.33,"v":-311},{"t":0.334,"v":50},
{"t":0.34,"v":311},{"t":0.344,"v":-220},{"t":0.35,"v":-311},{"t":0.354,"v":220},
{"t":0.36,"v":311},{"t":0.364,"v":-220},{"t":0.37,"v":-311},{"t":0.374,"v":220},
{"t":0.38,"v":311},{"t":0.384,"v":-50},{"t":0.39,"v":-311},{"t":0.394,"v":50},
{"t":0.4,"v":311},{"t":0.404,"v":150},{"t":0.41,"v":-311},{"t":0.414,"v":-150},
{"t":0.42,"v":311},{"t":0.424,"v":250},{"t":0.43,"v":-311},{"t":0.434,"v":-250},
{"t":0.44,"v":311},{"t":0.444,"v":150},{"t":0.45,"v":-311},{"t":0.454,"v":-150},
{"t":0.46,"v":311},{"t":0.464,"v":-50},{"t":0.47,"v":-311},{"t":0.474,"v":50},
{"t":0.48,"v":311},{"t":0.484,"v":-220},{"t":0.49,"v":-311},{"t":0.494,"v":220},
{"t":0.5,"v":311},{"t":0.504,"v":-220},{"t":0.51,"v":-311},{"t":0.514,"v":220},
{"t":0.52,"v":311},{"t":0.524,"v":-50},{"t":0.53,"v":-311},{"t":0.534,"v":50},
{"t":0.54,"v":311},{"t":0.544,"v":150},{"t":0.55,"v":-311},{"t":0.554,"v":-150},
{"t":0.56,"v":311},{"t":0.564,"v":250},{"t":0.57,"v":-311},{"t":0.574,"v":-250},
{"t":0.58,"v":311},{"t":0.584,"v":150},{"t":0.59,"v":-311},{"t":0.594,"v":-150},
{"t":0.6,"v":311},{"t":0.604,"v":-50},{"t":0.61,"v":-311},{"t":0.614,"v":50},
{"t":0.62,"v":311},{"t":0.624,"v":-220},{"t":0.63,"v":-311},{"t":0.634,"v":220},
{"t":0.64,"v":311},{"t":0.644,"v":-220},{"t":0.65,"v":-311},{"t":0.654,"v":220},
{"t":0.66,"v":311},{"t":0.664,"v":-50},{"t":0.67,"v":-311},{"t":0.674,"v":50},
{"t":0.68,"v":311},{"t":0.684,"v":150},{"t":0.69,"v":-311},{"t":0.694,"v":-150},
{"t":0.7,"v":311},{"t":0.704,"v":250},{"t":0.71,"v":-311},{"t":0.714,"v":-250},
{"t":0.72,"v":311},{"t":0.724,"v":150},{"t":0.73,"v":-311},{"t":0.734,"v":-150},
{"t":0.74,"v":311},{"t":0.744,"v":-50},{"t":0.75,"v":-311},{"t":0.754,"v":50},
{"t":0.76,"v":311},{"t":0.764,"v":-220},{"t":0.77,"v":-311},{"t":0.774,"v":220},
{"t":0.78,"v":311},{"t":0.784,"v":-220},{"t":0.79,"v":-311},{"t":0.794,"v":220},
{"t":0.8,"v":311},{"t":0.804,"v":-50},{"t":0.81,"v":-311},{"t":0.814,"v":50},
{"t":0.82,"v":311},{"t":0.824,"v":150},{"t":0.83,"v":-311},{"t":0.834,"v":-150},
{"t":0.84,"v":311},{"t":0.844,"v":250},{"t":0.85,"v":-311},{"t":0.854,"v":-250},
{"t":0.86,"v":311},{"t":0.864,"v":150},{"t":0.87,"v":-311},{"t":0.874,"v":-150},
{"t":0.88,"v":311},{"t":0.884,"v":-50},{"t":0.89,"v":-311},{"t":0.894,"v":50},
{"t":0.9,"v":311},{"t":0.904,"v":-220},{"t":0.91,"v":-311},{"t":0.914,"v":220},
{"t":0.92,"v":311},{"t":0.924,"v":-220},{"t":0.93,"v":-311},{"t":0.934,"v":220},
{"t":0.94,"v":311},{"t":0.944,"v":-50},{"t":0.95,"v":-311},{"t":0.954,"v":50},
{"t":0.96,"v":311},{"t":0.964,"v":150},{"t":0.97,"v":-311},{"t":0.974,"v":-150},
{"t":0.98,"v":311},{"t":0.984,"v":250},{"t":0.99,"v":-311},{"t":0.994,"v":-250},
{"t":1,"v":311},{"t":1.004,"v":150},{"t":1.01,"v":-311},{"t":1.014,"v":-150},
{"t":1.02,"v":311},{"t":1.024,"v":-50},{"t":1.03,"v":-311},{"t":1.034,"v":50},
{"t":1.04,"v":311},{"t":1.044,"v":-220},{"t":1.05,"v":-311},{"t":1.054,"v":220},
{"t":1.06,"v":311},{"t":1.064,"v":-220},{"t":1.07,"v":-311},{"t":1.074,"v":220},
{"t":1.08,"v":311},{"t":1.084,"v":-50},{"t":1.09,"v":-311},{"t":1.094,"v":50},
{"t":1.1,"v":311},{"t":1.104,"v":150},{"t":1.11,"v":-311},{"t":1.114,"v":-150},
{"t":1.12,"v":311},{"t":1.124,"v":250},{"t":1.13,"v":-311},{"t":1.134,"v":-250},
{"t":1.14,"v":311},{"t":1.144,"v":150},{"t":1.15,"v":-311},{"t":1.154,"v":-150},
{"t":1.16,"v":311},{"t":1.164,"v":-50},{"t":1.17,"v":-311},{"t":1.174,"v":50},
{"t":1.18,"v":311},{"t":1.184,"v":-220},{"t":1.19,"v":-311},{"t":1.194,"v":220},
{"t":1.2,"v":311},{"t":1.204,"v":-220},{"t":1.21,"v":-311},{"t":1.214,"v":220},
{"t":1.22,"v":311},{"t":1.224,"v":-50},{"t":1.23,"v":-311},{"t":1.234,"v":50},
{"t":1.24,"v":311},{"t":1.244,"v":150},{"t":1.25,"v":-311},{"t":1.254,"v":-150},
{"t":1.26,"v":311},{"t":1.264,"v":250},{"t":1.27,"v":-311},{"t":1.274,"v":-250},
{"t":1.28,"v":311},{"t":1.284,"v":150},{"t":1.29,"v":-311},{"t":1.294,"v":-150},
{"t":1.3,"v":311},{"t":1.304,"v":-50},{"t":1.31,"v":-311},{"t":1.314,"v":50},
{"t":1.32,"v":311},{"t":1.324,"v":-220},{"t":1.33,"v":-311},{"t":1.334,"v":220},
{"t":1.34,"v":311},{"t":1.344,"v":-220},{"t":1.35,"v":-311},{"t":1.354,"v":220},
{"t":1.36,"v":311},{"t":1.364,"v":-50},{"t":1.37,"v":-311},{"t":1.374,"v":50},
{"t":1.38,"v":311},{"t":1.384,"v":150},{"t":1.39,"v":-311},{"t":1.394,"v":-150},
{"t":1.4,"v":311},{"t":1.404,"v":250},{"t":1.41,"v":-311},{"t":1.414,"v":-250},
{"t":1.42,"v":311},{"t":1.424,"v":150},{"t":1.43,"v":-311},{"t":1.434,"v":-150},
{"t":1.44,"v":311},{"t":1.444,"v":-50},{"t":1.45,"v":-311},{"t":1.454,"v":50},
{"t":1.46,"v":311},{"t":1.464,"v":-220},{"t":1.47,"v":-311},{"t":1.474,"v":220},
{"t":1.48,"v":311},{"t":1.484,"v":-220},{"t":1.49,"v":-311},{"t":1.494,"v":220},
{"t":1.5,"v":311},{"t":1.504,"v":-50},{"t":1.51,"v":-311},{"t":1.514,"v":50},
{"t":1.52,"v":311},{"t":1.524,"v":150},{"t":1.53,"v":-311},{"t":1.534,"v":-150},
{"t":1.54,"v":311},{"t":1.544,"v":250},{"t":1.55,"v":-311},{"t":1.554,"v":-250},
{"t":1.56,"v":311},{"t":1.564,"v":150},{"t":1.57,"v":-311},{"t":1.574,"v":-150},
{"t":1.58,"v":311},{"t":1.584,"v":-50},{"t":1.59,"v":-311},{"t":1.594,"v":50},
{"t":1.6,"v":311},{"t":1.604,"v":-220},{"t":1.61,"v":-311},{"t":1.614,"v":220},
{"t":1.62,"v":311},{"t":1.624,"v":-220},{"t":1.63,"v":-311},{"t":1.634,"v":220},
{"t":1.64,"v":311},{"t":1.644,"v":-50},{"t":1.65,"v":-311},{"t":1.654,"v":50},
{"t":1.66,"v":311},{"t":1.664,"v":150},{"t":1.67,"v":-311},{"t":1.674,"v":-150},
{"t":1.68,"v":311},{"t":1.684,"v":250},{"t":1.69,"v":-311},{"t":1.694,"v":-250},
{"t":1.7,"v":311},{"t":1.704,"v":150},{"t":1.71,"v":-311},{"t":1.714,"v":-150},
{"t":1.72,"v":311},{"t":1.724,"v":-50},{"t":1.73,"v":-311},{"t":1.734,"v":50},
{"t":1.74,"v":311},{"t":1.744,"v":-220},{"t":1.75,"v":-311},{"t":1.754,"v":220},
{"t":1.76,"v":311},{"t":1.764,"v":-220},{"t":1.77,"v":-311},{"t":1.774,"v":220},
{"t":1.78,"v":311},{"t":1.784,"v":-50},{"t":1.79,"v":-311},{"t":1.794,"v":50},
{"t":1.8,"v":311},{"t":1.804,"v":150},{"t":1.81,"v":-311},{"t":1.814,"v":-150},
{"t":1.82,"v":311},{"t":1.824,"v":250},{"t":1.83,"v":-311},{"t":1.834,"v":-250},
{"t":1.84,"v":311},{"t":1.844,"v":150},{"t":1.85,"v":-311},{"t":1.854,"v":-150},
{"t":1.86,"v":311},{"t":1.864,"v":-50},{"t":1.87,"v":-311},{"t":1.874,"v":50},
{"t":1.88,"v":311},{"t":1.884,"v":-220},{"t":1.89,"v":-311},{"t":1.894,"v":220},
{"t":1.9,"v":311},{"t":1.904,"v":-220},{"t":1.91,"v":-311},{"t":1.914,"v":220},
{"t":1.92,"v":311},{"t":1.924,"v":-50},{"t":1.93,"v":-311},{"t":1.934,"v":50},
{"t":1.94,"v":311},{"t":1.944,"v":150},{"t":1.95,"v":-311},{"t":1.954,"v":-150},
{"t":1.96,"v":311},{"t":1.964,"v":250},{"t":1.97,"v":-311},{"t":1.974,"v":-250},
{"t":1.98,"v":311},{"t":1.984,"v":150},{"t":1.99,"v":-311},{"t":1.994,"v":-150},
{"t":2,"v":311}]
},
"vconcat": [
{
 "width": 869, "height": 276,
 "title": "les courbes des vitesses avec et sans pertes fer",
 "layer": [
  {"layer": [
   {"data": {"name": "w_b"}, "mark": {"type": "line", "strokeWidth": 1},
    "encoding": {
     "x": {"field": "t", "type": "quantitative", "scale": {"domain": [0, 2], "nice": false}, "axis": {"values": [0, 0.2, 0.4, 0.6, 0.8, 1, 1.2, 1.4, 1.6, 1.8, 2], "format": "~g", "title": "t(s)", "titleX": 434.5, "titleY": 45, "titleBaseline": "top"}},
     "y": {"field": "v", "type": "quantitative", "scale": {"domain": [0, 200], "nice": false}, "axis": {"values": [0, 50, 100, 150, 200], "title": "omega(rad/s)", "titlePadding": 14.7}},
     "color": {"datum": "sans pertes fer", "type": "nominal", "scale": {"domain": ["sans pertes fer", "avec pertes fer"], "range": ["#0000ff", "#008000"]}, "legend": {"title": null, "orient": "none", "legendX": 569, "legendY": 13}}
    }},
   {"data": {"name": "w_g"}, "mark": {"type": "line", "strokeWidth": 1},
    "encoding": {"x": {"field": "t", "type": "quantitative"}, "y": {"field": "v", "type": "quantitative"}, "color": {"datum": "avec pertes fer", "type": "nominal"}}},
   {"data": {"values": [{"t": 1.1093, "v": 152.2}]}, "mark": {"type": "point", "shape": "M-1,0A1,0.382,0,1,1,1,0A1,0.382,0,1,1,-1,0Z", "size": 18496, "filled": false, "color": "black", "strokeWidth": 2, "strokeDash": [2, 2.5], "opacity": 1},
    "encoding": {"x": {"field": "t", "type": "quantitative"}, "y": {"field": "v", "type": "quantitative"}}},
   {"data": {"values": [{"t": 0.794, "v": 180.2, "t2": 0.9447, "v2": 167.2}]}, "mark": {"type": "rule", "color": "black", "strokeWidth": 2.5},
    "encoding": {"x": {"field": "t", "type": "quantitative"}, "y": {"field": "v", "type": "quantitative"}, "x2": {"field": "t2"}, "y2": {"field": "v2"}}},
   {"data": {"values": [{"t": 0.9666, "v": 165.2}]}, "mark": {"type": "point", "shape": "M0,0L-2,-0.75L-2,0.75Z", "size": 256, "filled": true, "color": "black", "opacity": 1, "angle": 15.4},
    "encoding": {"x": {"field": "t", "type": "quantitative"}, "y": {"field": "v", "type": "quantitative"}}},
   {"data": {"values": [{"t": 0.7077, "v": 183.3, "label": "zoom"}]}, "mark": {"type": "text", "font": "Roboto", "fontWeight": "bold", "fontSize": 29, "align": "center", "baseline": "middle", "color": "black"},
    "encoding": {"x": {"field": "t", "type": "quantitative"}, "y": {"field": "v", "type": "quantitative"}, "text": {"field": "label"}}}
  ]},
  {"layer": [
   {"data": {"values": [{"t": 0.9275, "t2": 1.1936, "v": 139.03, "v2": 163.87}]}, "mark": {"type": "rect", "fill": "white"},
    "encoding": {
     "x": {"field": "t", "type": "quantitative", "scale": {"domain": [0.9275, 1.1936], "range": [225, 481.7], "nice": false, "zero": false}, "axis": null},
     "x2": {"field": "t2"},
     "y": {"field": "v", "type": "quantitative", "scale": {"domain": [139.03, 163.87], "range": [236.3, 119], "nice": false, "zero": false}, "axis": null},
     "y2": {"field": "v2"}}},
   {"data": {"values": [{"t": 0.95}, {"t": 1.0}, {"t": 1.05}, {"t": 1.1}, {"t": 1.15}]}, "mark": {"type": "rule", "color": "#c4c4c4", "strokeDash": [1, 2], "strokeWidth": 1},
    "encoding": {"x": {"field": "t", "type": "quantitative", "axis": null}, "y": {"datum": 139.03, "type": "quantitative", "axis": null}, "y2": {"datum": 163.87}}},
   {"data": {"values": [{"v": 140.7}, {"v": 143.4}, {"v": 146.1}, {"v": 148.8}, {"v": 151.5}, {"v": 154.2}, {"v": 156.9}, {"v": 159.6}, {"v": 162.3}]}, "mark": {"type": "rule", "color": "#c4c4c4", "strokeDash": [1, 2], "strokeWidth": 1},
    "encoding": {"y": {"field": "v", "type": "quantitative", "axis": null}, "x": {"datum": 0.9275, "type": "quantitative", "axis": null}, "x2": {"datum": 1.1936}}},
   {"data": {"name": "i1_g"}, "mark": {"type": "line", "color": "#008000", "strokeWidth": 2.2, "interpolate": "monotone"},
    "encoding": {"x": {"field": "t", "type": "quantitative", "axis": null}, "y": {"field": "v", "type": "quantitative", "axis": null}}},
   {"data": {"name": "i1_b"}, "mark": {"type": "line", "color": "#0000ff", "strokeWidth": 2.2, "interpolate": "monotone"},
    "encoding": {"x": {"field": "t", "type": "quantitative", "axis": null}, "y": {"field": "v", "type": "quantitative", "axis": null}}}
  ]}
 ],
 "resolve": {"scale": {"x": "independent", "y": "independent"}}
},
{
 "width": 869, "height": 276,
 "title": "les courbes des couples avec et sans pertes fer",
 "layer": [
  {"layer": [
   {"data": {"name": "c_b"}, "mark": {"type": "line", "strokeWidth": 1},
    "encoding": {
     "x": {"field": "t", "type": "quantitative", "scale": {"domain": [0, 2], "nice": false}, "axis": {"values": [0, 0.2, 0.4, 0.6, 0.8, 1, 1.2, 1.4, 1.6, 1.8, 2], "format": "~g", "title": "t(s)", "titleX": 434.5, "titleY": 45, "titleBaseline": "top", "minExtent": 117}},
     "y": {"field": "v", "type": "quantitative", "scale": {"domain": [-20, 60], "nice": false}, "axis": {"values": [-20, 0, 20, 40, 60], "title": "Ce(N.m)", "titlePadding": 16.4}},
     "color": {"datum": "sans pertes fer", "type": "nominal", "scale": {"domain": ["sans pertes fer", "avec pertes fer"], "range": ["#0000ff", "#008000"]}, "legend": {"title": null, "orient": "none", "legendX": 569, "legendY": 13}}
    }},
   {"data": {"name": "c_g"}, "mark": {"type": "line", "strokeWidth": 1},
    "encoding": {"x": {"field": "t", "type": "quantitative"}, "y": {"field": "v", "type": "quantitative"}, "color": {"datum": "avec pertes fer", "type": "nominal"}}},
   {"data": {"values": [{"t": 1.127, "v": 6.72}]}, "mark": {"type": "point", "shape": "M-1,0A1,0.311,0,1,1,1,0A1,0.311,0,1,1,-1,0Z", "size": 26896, "filled": false, "color": "black", "strokeWidth": 2, "strokeDash": [2, 2.5], "opacity": 1},
    "encoding": {"x": {"field": "t", "type": "quantitative"}, "y": {"field": "v", "type": "quantitative"}}},
   {"data": {"values": [{"t": 1.538, "v": 15.94, "t2": 1.3267, "v2": 10.7}]}, "mark": {"type": "rule", "color": "black", "strokeWidth": 2.5},
    "encoding": {"x": {"field": "t", "type": "quantitative"}, "y": {"field": "v", "type": "quantitative"}, "x2": {"field": "t2"}, "y2": {"field": "v2"}}},
   {"data": {"values": [{"t": 1.3043, "v": 10.14}]}, "mark": {"type": "point", "shape": "M0,0L-2,-0.75L-2,0.75Z", "size": 256, "filled": true, "color": "black", "opacity": 1, "angle": 168.9},
    "encoding": {"x": {"field": "t", "type": "quantitative"}, "y": {"field": "v", "type": "quantitative"}}},
   {"data": {"values": [{"t": 1.6386, "v": 17.1, "label": "zoom"}]}, "mark": {"type": "text", "font": "Roboto", "fontWeight": "bold", "fontSize": 29, "align": "center", "baseline": "middle", "color": "black"},
    "encoding": {"x": {"field": "t", "type": "quantitative"}, "y": {"field": "v", "type": "quantitative"}, "text": {"field": "label"}}}
  ]},
  {"layer": [
   {"data": {"values": [{"t": 0.8323, "t2": 1.3115, "v": -1.2, "v2": 14.97}]}, "mark": {"type": "rect", "fill": "white"},
    "encoding": {
     "x": {"field": "t", "type": "quantitative", "scale": {"domain": [0.8323, 1.3115], "range": [188.7, 481], "nice": false, "zero": false}, "axis": null},
     "x2": {"field": "t2"},
     "y": {"field": "v", "type": "quantitative", "scale": {"domain": [-1.2, 14.97], "range": [119.3, 7.7], "nice": false, "zero": false}, "axis": null},
     "y2": {"field": "v2"}}},
   {"data": {"values": [{"t": 0.9}, {"t": 1.0}, {"t": 1.1}, {"t": 1.2}, {"t": 1.3}]}, "mark": {"type": "rule", "color": "#c4c4c4", "strokeDash": [1, 2], "strokeWidth": 1},
    "encoding": {"x": {"field": "t", "type": "quantitative", "axis": null}, "y": {"datum": -1.2, "type": "quantitative", "axis": null}, "y2": {"datum": 14.97}}},
   {"data": {"values": [{"v": 0}, {"v": 2}, {"v": 4}, {"v": 6}, {"v": 8}, {"v": 10}, {"v": 12}, {"v": 14}]}, "mark": {"type": "rule", "color": "#c4c4c4", "strokeDash": [1, 2], "strokeWidth": 1},
    "encoding": {"y": {"field": "v", "type": "quantitative", "axis": null}, "x": {"datum": 0.8323, "type": "quantitative", "axis": null}, "x2": {"datum": 1.3115}}},
   {"data": {"name": "i2_g"}, "mark": {"type": "line", "color": "#2e9a2e", "strokeWidth": 1.6, "interpolate": "monotone"},
    "encoding": {"x": {"field": "t", "type": "quantitative", "axis": null}, "y": {"field": "v", "type": "quantitative", "axis": null}}},
   {"data": {"name": "i2_b"}, "mark": {"type": "line", "color": "#4d4dff", "strokeWidth": 1.6, "interpolate": "monotone"},
    "encoding": {"x": {"field": "t", "type": "quantitative", "axis": null}, "y": {"field": "v", "type": "quantitative", "axis": null}}}
  ]}
 ],
 "resolve": {"scale": {"x": "independent", "y": "independent"}}
},
{
 "width": 869, "height": 276,
 "title": "les courbes des courants avec et sans pertes fer",
 "layer": [
  {"layer": [
   {"data": {"name": "isa"}, "mark": {"type": "line", "strokeWidth": 1, "interpolate": "step"},
    "encoding": {
     "x": {"field": "t", "type": "quantitative", "scale": {"domain": [0, 2], "nice": false}, "axis": {"values": [0, 0.2, 0.4, 0.6, 0.8, 1, 1.2, 1.4, 1.6, 1.8, 2], "format": "~g", "title": "t(s)", "titleX": 434.5, "titleY": 45, "titleBaseline": "top"}},
     "y": {"field": "b", "type": "quantitative", "scale": {"domain": [-40, 40], "nice": false}, "axis": {"values": [-40, -20, 0, 20, 40], "title": "isa(A)", "titlePadding": 16.4}},
     "color": {"datum": "sans pertes fer", "type": "nominal", "scale": {"domain": ["sans pertes fer", "avec pertes fer"], "range": ["#0000ff", "#008000"]}, "legend": {"title": null, "orient": "none", "legendX": 569, "legendY": 13}}
    }},
   {"data": {"name": "isa"}, "mark": {"type": "line", "strokeWidth": 1, "interpolate": "step-after"},
    "encoding": {"x": {"field": "t", "type": "quantitative"}, "y": {"field": "g", "type": "quantitative"}, "color": {"datum": "avec pertes fer", "type": "nominal"}}},
   {"data": {"values": [{"t": 1.1489, "b": 0.96}]}, "mark": {"type": "point", "shape": "M-1,0A1,0.727,0,1,1,1,0A1,0.727,0,1,1,-1,0Z", "size": 16461, "filled": false, "color": "black", "strokeWidth": 2, "strokeDash": [2, 2.5], "opacity": 1},
    "encoding": {"x": {"field": "t", "type": "quantitative"}, "y": {"field": "b", "type": "quantitative"}}},
   {"data": {"values": [{"t": 0.8784, "b": 18.55, "t2": 1.0043, "b2": 11.6}]}, "mark": {"type": "rule", "color": "black", "strokeWidth": 2.5},
    "encoding": {"x": {"field": "t", "type": "quantitative"}, "y": {"field": "b", "type": "quantitative"}, "x2": {"field": "t2"}, "y2": {"field": "b2"}}},
   {"data": {"values": [{"t": 1.0257, "b": 10.43}]}, "mark": {"type": "point", "shape": "M0,0L-2,-0.75L-2,0.75Z", "size": 256, "filled": true, "color": "black", "opacity": 1, "angle": 23.6},
    "encoding": {"x": {"field": "t", "type": "quantitative"}, "y": {"field": "b", "type": "quantitative"}}},
   {"data": {"values": [{"t": 0.7699, "b": 27.5, "label": "Zoom"}]}, "mark": {"type": "text", "font": "Roboto", "fontWeight": "bold", "fontSize": 28, "align": "center", "baseline": "middle", "color": "black"},
    "encoding": {"x": {"field": "t", "type": "quantitative"}, "y": {"field": "b", "type": "quantitative"}, "text": {"field": "label"}}}
  ]},
  {"layer": [
   {"data": {"values": [{"t": 1.0, "t2": 1.2067, "v": -6, "v2": 6}]}, "mark": {"type": "rect", "fill": "white"},
    "encoding": {
     "x": {"field": "t", "type": "quantitative", "scale": {"domain": [1.0, 1.2067], "range": [225, 431.7], "nice": false, "zero": false}, "axis": null},
     "x2": {"field": "t2"},
     "y": {"field": "v", "type": "quantitative", "scale": {"domain": [-6, 6], "range": [264, 165.3], "nice": false, "zero": false}, "axis": null},
     "y2": {"field": "v2"}}},
   {"data": {"values": [{"t": 1.082}, {"t": 1.163}]}, "mark": {"type": "rule", "color": "#c4c4c4", "strokeDash": [1, 2], "strokeWidth": 1},
    "encoding": {"x": {"field": "t", "type": "quantitative", "axis": null}, "y": {"datum": -6, "type": "quantitative", "axis": null}, "y2": {"datum": 6}}},
   {"data": {"values": [{"v": -6}, {"v": -4}, {"v": -2}, {"v": 0}, {"v": 2}, {"v": 4}, {"v": 6}]}, "mark": {"type": "rule", "color": "#c4c4c4", "strokeDash": [1, 2], "strokeWidth": 1},
    "encoding": {"y": {"field": "v", "type": "quantitative", "axis": null}, "x": {"datum": 1.0, "type": "quantitative", "axis": null}, "x2": {"datum": 1.2067}}},
   {"data": {"name": "i3_b"}, "mark": {"type": "line", "color": "#4d4dff", "strokeWidth": 1.5, "interpolate": "monotone"},
    "encoding": {"x": {"field": "t", "type": "quantitative", "axis": null}, "y": {"field": "v", "type": "quantitative", "axis": null}}},
   {"data": {"name": "i3_g"}, "mark": {"type": "line", "color": "#2e9a2e", "strokeWidth": 1.5, "opacity": 0.85, "interpolate": "monotone"},
    "encoding": {"x": {"field": "t", "type": "quantitative", "axis": null}, "y": {"field": "v", "type": "quantitative", "axis": null}}}
  ]}
 ],
 "resolve": {"scale": {"x": "independent", "y": "independent"}}
},
{
 "width": 869, "height": 277,
 "title": "les courbes des tensions avec et sans pertes fer",
 "layer": [
  {"data": {"name": "vsa"}, "mark": {"type": "line", "strokeWidth": 1, "interpolate": "step"},
   "encoding": {
    "x": {"field": "t", "type": "quantitative", "scale": {"domain": [0, 2], "nice": false}, "axis": {"values": [0, 0.2, 0.4, 0.6, 0.8, 1, 1.2, 1.4, 1.6, 1.8, 2], "format": "~g", "title": "t(s)", "titleX": 434.5, "titleY": 45, "titleBaseline": "top"}},
    "y": {"field": "v", "type": "quantitative", "scale": {"domain": [-400, 400], "nice": false}, "axis": {"values": [-400, -200, 0, 200, 400], "title": "vsa(V)", "titlePadding": 12.5}},
    "color": {"datum": "sans pertes fer", "type": "nominal", "scale": {"domain": ["sans pertes fer", "avec pertes fer"], "range": ["#0000ff", "#008000"]}, "legend": {"title": null, "orient": "none", "legendX": 569, "legendY": 13}}
   }},
  {"data": {"name": "vsa"}, "mark": {"type": "line", "strokeWidth": 1, "interpolate": "step-after"},
   "encoding": {"x": {"field": "t", "type": "quantitative"}, "y": {"field": "v", "type": "quantitative"}, "color": {"datum": "avec pertes fer", "type": "nominal"}}}
 ]
}
]
}
